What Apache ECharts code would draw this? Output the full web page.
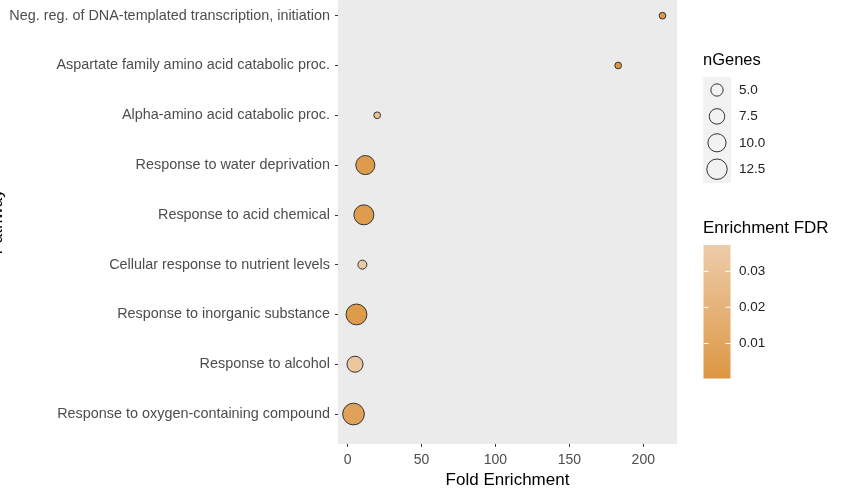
<!DOCTYPE html>
<html>
<head>
<meta charset="utf-8">
<script src="https://cdn.jsdelivr.net/npm/echarts@6/dist/echarts.min.js"></script>
<style>html,body{margin:0;padding:0;background:#fff}#c{width:848px;height:493px}</style>
</head>
<body>
<div id="c"></div>
<script>
const categories = [
  'Neg. reg. of DNA-templated transcription, initiation',
  'Aspartate family amino acid catabolic proc.',
  'Alpha-amino acid catabolic proc.',
  'Response to water deprivation',
  'Response to acid chemical',
  'Cellular response to nutrient levels',
  'Response to inorganic substance',
  'Response to alcohol',
  'Response to oxygen-containing compound'
];
const foldEnrichment = [213, 183, 20, 12, 11, 10, 6, 5, 4];
const nGenes = [2, 2, 2, 11, 12, 3, 13, 8, 14];
const fdr = [0.001, 0.001, 0.030, 0.003, 0.004, 0.035, 0.003, 0.033, 0.008];
const xTicks = [0, 50, 100, 150, 200];
const sizeBreaks = [5, 7.5, 10, 12.5];
const fdrBreaks = [0.01, 0.02, 0.03];

const FONT = "'Liberation Sans', Arial, sans-serif";
const LOW = '#DC9743', HIGH = '#EDCCAA';
const FDR_MIN = 0.0003, FDR_MAX = 0.0373;
function sz(v) { return Math.sqrt(35.5 * (v - 0.73)); }

const data = categories.map((c, i) => [foldEnrichment[i], i, nGenes[i], fdr[i]]);

const graphics = [];
graphics.push({type:'text', left:703, top:52, style:{text:'nGenes', font:'16.5px ' + FONT, fill:'#000'}});
graphics.push({type:'rect', shape:{x:703, y:77, width:28, height:106}, style:{fill:'#F2F2F2'}});
sizeBreaks.forEach((b, k) => {
  const cy = 90 + k * 26.4;
  graphics.push({type:'circle', shape:{cx:717, cy:cy, r:sz(b)/2}, style:{fill:'none', stroke:'#333', lineWidth:1}});
  graphics.push({type:'text', x:739, y:cy, style:{text:b.toFixed(1), font:'13.5px ' + FONT, fill:'#222', verticalAlign:'middle'}});
});
graphics.push({type:'text', left:703, top:220, style:{text:'Enrichment FDR', font:'17px ' + FONT, fill:'#000'}});
const barTop = 245, barBot = 378.5, barX = 703.5, barW = 27;
graphics.push({type:'rect', shape:{x:barX, y:barTop, width:barW, height:barBot-barTop},
  style:{fill:new echarts.graphic.LinearGradient(0, 0, 0, 1, [{offset:0, color:HIGH}, {offset:1, color:LOW}])}});
fdrBreaks.forEach(b => {
  const y = barBot - (b - FDR_MIN) / (FDR_MAX - FDR_MIN) * (barBot - barTop);
  graphics.push({type:'line', shape:{x1:barX, y1:y, x2:barX+5, y2:y}, style:{stroke:'#fff', lineWidth:1}});
  graphics.push({type:'line', shape:{x1:barX+barW-5, y1:y, x2:barX+barW, y2:y}, style:{stroke:'#fff', lineWidth:1}});
  graphics.push({type:'text', x:739, y:y, style:{text:b.toFixed(2), font:'13.5px ' + FONT, fill:'#222', verticalAlign:'middle'}});
});

const chart = echarts.init(document.getElementById('c'), null, {renderer:'canvas'});
chart.setOption({
  animation: false,
  backgroundColor: '#fff',
  textStyle: {fontFamily: FONT},
  grid: {left:338, right:171, top:0, bottom:49.1, show:true, backgroundColor:'#EBEBEB', borderWidth:0,
    containLabel:false, outerBoundsMode:'none'},
  xAxis: {
    type:'value', min:-6.5, max:222.8,
    name:'Fold Enrichment', nameLocation:'middle', nameGap:26,
    nameTextStyle:{fontSize:17, color:'#000', fontFamily:FONT},
    axisLine:{show:false, onZero:false}, splitLine:{show:false},
    axisTick:{show:true, length:3, lineStyle:{color:'#333'}, customValues:xTicks},
    axisLabel:{fontSize:14, color:'#4D4D4D', margin:9, fontFamily:FONT, customValues:xTicks}
  },
  yAxis: {
    type:'value', min:-0.315, max:8.6, inverse:true,
    name:'Pathway', nameLocation:'middle', nameGap:331, nameRotate:90,
    nameTextStyle:{fontSize:17, color:'#000', fontFamily:FONT},
    axisLine:{show:false, onZero:false}, splitLine:{show:false},
    axisTick:{show:true, length:3, lineStyle:{color:'#333'}, customValues:categories.map((c,i)=>i)},
    axisLabel:{fontSize:14.4, color:'#4D4D4D', margin:8, fontFamily:FONT,
      customValues:categories.map((c,i)=>i), formatter:v => categories[Math.round(v)]}
  },
  visualMap: {show:false, type:'continuous', dimension:3, seriesIndex:0, min:FDR_MIN, max:FDR_MAX,
    inRange:{color:[LOW, HIGH]}},
  series: [{
    type:'scatter', data:data,
    symbolSize: d => sz(d[2]),
    itemStyle:{borderColor:'#333', borderWidth:1, opacity:1},
    emphasis:{disabled:true}
  }],
  graphic: graphics
});
</script>
</body>
</html>
